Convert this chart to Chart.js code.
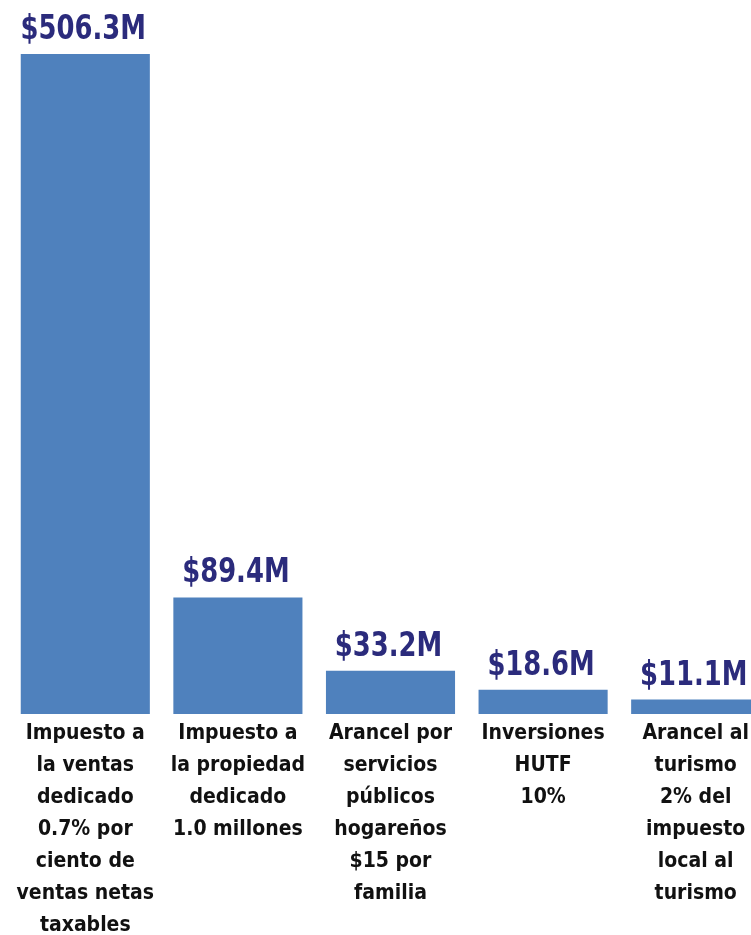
<!DOCTYPE html>
<html>
<head>
<meta charset="utf-8">
<script src="https://cdn.jsdelivr.net/npm/chart.js@4/dist/chart.umd.min.js"></script>
<style>
  html, body { margin: 0; padding: 0; background: #fff; overflow: hidden; }
  #wrap { width: 751px; height: 935px; overflow: hidden; }
</style>
</head>
<body>
<div id="wrap"><canvas id="canvas" width="781" height="935"></canvas></div>
<script>
var categories = [
    ['Impuesto a', 'la ventas', 'dedicado', '0.7% por', 'ciento de', 'ventas netas', 'taxables'],
    ['Impuesto a', 'la propiedad', 'dedicado', '1.0 millones'],
    ['Arancel por', 'servicios', 'públicos', 'hogareños', '$15 por', 'familia'],
    ['Inversiones', 'HUTF', '10%'],
    ['Arancel al', 'turismo', '2% del', 'impuesto', 'local al', 'turismo']
];
var values = [506.3, 89.4, 33.2, 18.6, 11.1];
var valueLabels = ['$506.3M', '$89.4M', '$33.2M', '$18.6M', '$11.1M'];

var FONT = "'Liberation Sans Narrow', 'DejaVu Sans Condensed', 'Arial Narrow', sans-serif";

// value labels above each bar, squeezed a bit to look condensed
var valueLabelPlugin = {
    id: 'valueLabels',
    afterDatasetsDraw: function (chart) {
        var ctx = chart.ctx;
        var meta = chart.getDatasetMeta(0);
        var sx = 0.87;
        ctx.save();
        ctx.fillStyle = '#2b2b7c';
        ctx.font = 'bold 33px ' + FONT;
        ctx.textAlign = 'center';
        ctx.textBaseline = 'alphabetic';
        meta.data.forEach(function (bar, i) {
            ctx.save();
            ctx.translate(bar.x - 2, bar.y - 15);
            ctx.scale(sx, 1);
            ctx.fillText(valueLabels[i], 0, 0);
            ctx.restore();
        });
        ctx.restore();
    }
};

window.onload = function () {
    var ctx = document.getElementById('canvas').getContext('2d');
    window.myBar = new Chart(ctx, {
        type: 'bar',
        data: {
            labels: categories,
            datasets: [{
                data: values,
                backgroundColor: '#4f81bd',
                borderWidth: 0,
                barPercentage: 0.846,
                categoryPercentage: 1.0
            }]
        },
        plugins: [valueLabelPlugin],
        options: {
            responsive: false,
            animation: false,
            layout: {
                padding: { top: 54, left: 9, right: 9, bottom: 0 }
            },
            plugins: {
                legend: { display: false },
                tooltip: { enabled: false }
            },
            scales: {
                x: {
                    grid: { display: false, drawTicks: false },
                    border: { display: false },
                    ticks: {
                        color: '#111111',
                        maxRotation: 0,
                        autoSkip: false,
                        padding: 4,
                        font: { family: FONT, size: 21, weight: 'bold', lineHeight: '32px' }
                    },
                    afterFit: function (scale) { scale.height = 221; }
                },
                y: {
                    display: false,
                    min: 0,
                    max: 506.3
                }
            }
        }
    });
};
</script>
</body>
</html>
